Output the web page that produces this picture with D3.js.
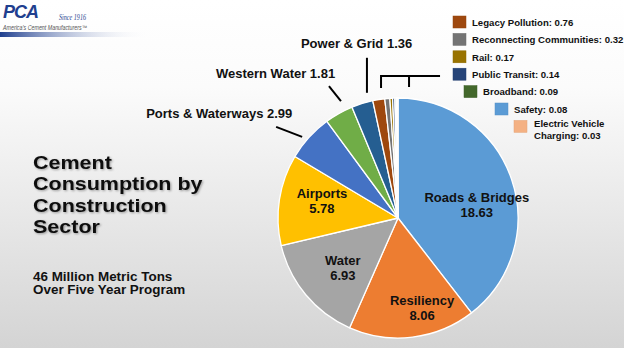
<!DOCTYPE html>
<html>
<head>
<meta charset="utf-8">
<script src="https://cdn.jsdelivr.net/npm/d3@7"></script>
<style>
  html, body { margin: 0; padding: 0; }
  body { width: 624px; height: 348px; overflow: hidden; font-family: "Liberation Sans", Arial, sans-serif; }
  svg { display: block; }
</style>
</head>
<body>
<svg id="chart" width="624" height="348"></svg>
<script>
// ---- data ----
const categories = ["Roads & Bridges", "Resiliency", "Water", "Airports", "Ports & Waterways",
  "Western Water", "Power & Grid", "Legacy Pollution", "Reconnecting Communities", "Rail",
  "Public Transit", "Broadband", "Safety", "Electric Vehicle Charging"];
const values = [18.63, 8.06, 6.93, 5.78, 2.99, 1.81, 1.36, 0.76, 0.32, 0.17, 0.14, 0.09, 0.08, 0.03];
const colors = ["#5b9bd5", "#ed7d31", "#a5a5a5", "#ffc000", "#4472c4", "#70ad47", "#255e91",
  "#9e480e", "#747474", "#997300", "#264478", "#43682b", "#5b9bd5", "#f4b183"];
const insideLabels = ["Roads & Bridges", "Resiliency", "Water", "Airports"];
const outsideLabels = ["Ports & Waterways", "Western Water", "Power & Grid"];
const legendItems = ["Legacy Pollution", "Reconnecting Communities", "Rail", "Public Transit",
  "Broadband", "Safety", "Electric Vehicle Charging"];
const titleLines = ["Cement", "Consumption by", "Construction", "Sector"];
const subtitleLines = ["46 Million Metric Tons", "Over Five Year Program"];

// ---- layout ----
const svg = d3.select("#chart");
const W = 624, H = 348;
const cx = 398, cy = 218, R = 120;
const deg = Math.PI / 180;

const defs = svg.append("defs");
const bg = defs.append("linearGradient").attr("id", "bg").attr("x1", 0).attr("y1", 0).attr("x2", 0).attr("y2", 1);
bg.append("stop").attr("offset", "0%").attr("stop-color", "#ffffff");
bg.append("stop").attr("offset", "25%").attr("stop-color", "#fbfbfb");
bg.append("stop").attr("offset", "100%").attr("stop-color", "#d4d4d4");
const bar = defs.append("linearGradient").attr("id", "bar");
bar.append("stop").attr("offset", "0%").attr("stop-color", "#1f3f8f");
bar.append("stop").attr("offset", "100%").attr("stop-color", "#ffffff").attr("stop-opacity", 0);
const sh = defs.append("filter").attr("id", "shadow").attr("x", "-5%").attr("y", "-5%").attr("width", "115%").attr("height", "130%");
sh.append("feDropShadow").attr("dx", 1).attr("dy", 1).attr("stdDeviation", 0.8).attr("flood-color", "#000").attr("flood-opacity", 0.35);

svg.append("rect").attr("width", W).attr("height", H).attr("fill", "url(#bg)");

// ---- logo ----
const logo = svg.append("g");
logo.append("text").attr("x", 3).attr("y", 18).attr("font-size", 18).attr("font-weight", "bold")
  .attr("font-style", "italic").attr("fill", "#1f3f8f").attr("letter-spacing", -1).text("PCA");
logo.append("text").attr("x", 59).attr("y", 19.5).attr("font-size", 7.5).attr("font-style", "italic")
  .attr("font-family", "Liberation Serif, serif").attr("fill", "#1f3f8f")
  .attr("textLength", 27).attr("lengthAdjust", "spacingAndGlyphs").text("Since 1916");
logo.append("text").attr("x", 3).attr("y", 29.5).attr("font-size", 6.3).attr("font-style", "italic")
  .attr("fill", "#555").attr("textLength", 84).attr("lengthAdjust", "spacingAndGlyphs")
  .text("America’s Cement Manufacturers™");
logo.append("rect").attr("x", 0).attr("y", 32).attr("width", 150).attr("height", 5).attr("fill", "url(#bar)");

// ---- title ----
const title = svg.append("g").attr("transform", "translate(33,0) scale(1.12,1)")
  .attr("filter", "url(#shadow)");
title.selectAll("text").data(titleLines).join("text")
  .attr("x", 0).attr("y", (d, i) => 169 + i * 21.5)
  .attr("font-size", 19.2).attr("font-weight", "bold").attr("fill", "#111").text(d => d);
const sub = svg.append("g").attr("transform", "translate(33,0) scale(1.12,1)");
sub.selectAll("text").data(subtitleLines).join("text")
  .attr("x", 0).attr("y", (d, i) => 281 + i * 13.5)
  .attr("font-size", 12).attr("font-weight", "bold").attr("fill", "#111").text(d => d);

// ---- pie ----
const color = d3.scaleOrdinal().domain(categories).range(colors);
const data = categories.map((c, i) => ({ name: c, value: values[i] }));
const pie = d3.pie().sort(null).value(d => d.value);
const arcs = pie(data);
const arc = d3.arc().innerRadius(0).outerRadius(R);
const g = svg.append("g").attr("transform", `translate(${cx},${cy})`);
g.selectAll("path").data(arcs).join("path")
  .attr("d", arc).attr("fill", d => color(d.data.name))
  .attr("stroke", "#fff").attr("stroke-width", 1.3).attr("stroke-linejoin", "round");

const byName = Object.fromEntries(arcs.map(a => [a.data.name, a]));
const polar = (aDeg, r) => [Math.sin(aDeg * deg) * r, -Math.cos(aDeg * deg) * r];
const midDeg = a => (a.startAngle + a.endAngle) / 2 / deg;

// inside labels: placement offset from slice mid-angle
const insidePlace = { "Roads & Bridges": [9, 80], "Resiliency": [-8, 93], "Water": [-2, 74], "Airports": [4, 78] };
insideLabels.forEach(name => {
  const a = byName[name];
  const [da, rr] = insidePlace[name];
  const [x, y] = polar(midDeg(a) + da, rr);
  const t = g.append("text").attr("text-anchor", "middle").attr("font-size", 13)
    .attr("font-weight", "bold").attr("fill", "#111");
  t.append("tspan").attr("x", x).attr("y", y - 2.5).text(name);
  t.append("tspan").attr("x", x).attr("y", y + 12.5).text(d3.format(".2f")(a.data.value));
});

// outside labels with leader lines
const outsidePlace = {
  "Ports & Waterways": { da: -2, r: 125.6, dx: -26, dy: -10, tx: -156, ty: -19 },
  "Western Water": { da: 3.4, r: 130, dx: -12, dy: -15, tx: -125, ty: -23 },
  "Power & Grid": { da: 3.4, r: 129, dx: 0, dy: -35, tx: -66, ty: -45 }
};
outsideLabels.forEach(name => {
  const a = byName[name];
  const p = outsidePlace[name];
  const [x1, y1] = polar(midDeg(a) + p.da, p.r);
  const x2 = x1 + p.dx, y2 = y1 + p.dy;
  g.append("line").attr("x1", x1).attr("y1", y1).attr("x2", x2).attr("y2", y2)
    .attr("stroke", "#000").attr("stroke-width", 2);
  g.append("text").attr("x", x1 + p.tx).attr("y", y1 + p.ty).attr("font-size", 13)
    .attr("font-weight", "bold").attr("fill", "#111")
    .text(`${name} ${d3.format(".2f")(a.data.value)}`);
});

// bracket for the small slices
const small = legendItems.map(n => byName[n]);
const [bx, by] = polar(small[0].startAngle / deg + 4.7, 131);
const bTop = by - 12;
g.append("path")
  .attr("d", `M${bx},${by} V${bTop} H${bx + 59} M${bx + 28},${bTop} V${bTop + 11}`)
  .attr("fill", "none").attr("stroke", "#000").attr("stroke-width", 2);

// ---- legend ----
const legendOffsets = [0, 0, 0, 0, 11, 42, 61];
const legend = svg.append("g").attr("transform", "translate(453,16)");
legendItems.forEach((name, i) => {
  const row = legend.append("g").attr("transform", `translate(${legendOffsets[i]},${i * 17.4})`);
  row.append("rect").attr("width", 13).attr("height", 12).attr("fill", color(name))
    .attr("stroke", d3.color(color(name)).darker(0.2)).attr("stroke-width", 0.5);
  const v = byName[name].data.value.toFixed(2);
  const t = row.append("text").attr("font-size", 9.6).attr("font-weight", "bold").attr("fill", "#111");
  if (name === "Electric Vehicle Charging") {
    t.append("tspan").attr("x", 20).attr("y", 7).text("Electric Vehicle");
    t.append("tspan").attr("x", 20).attr("y", 18.5).text("Charging: " + v);
  } else {
    t.attr("x", 19).attr("y", 9.8).text(`${name}: ${v}`);
  }
});
</script>
</body>
</html>
